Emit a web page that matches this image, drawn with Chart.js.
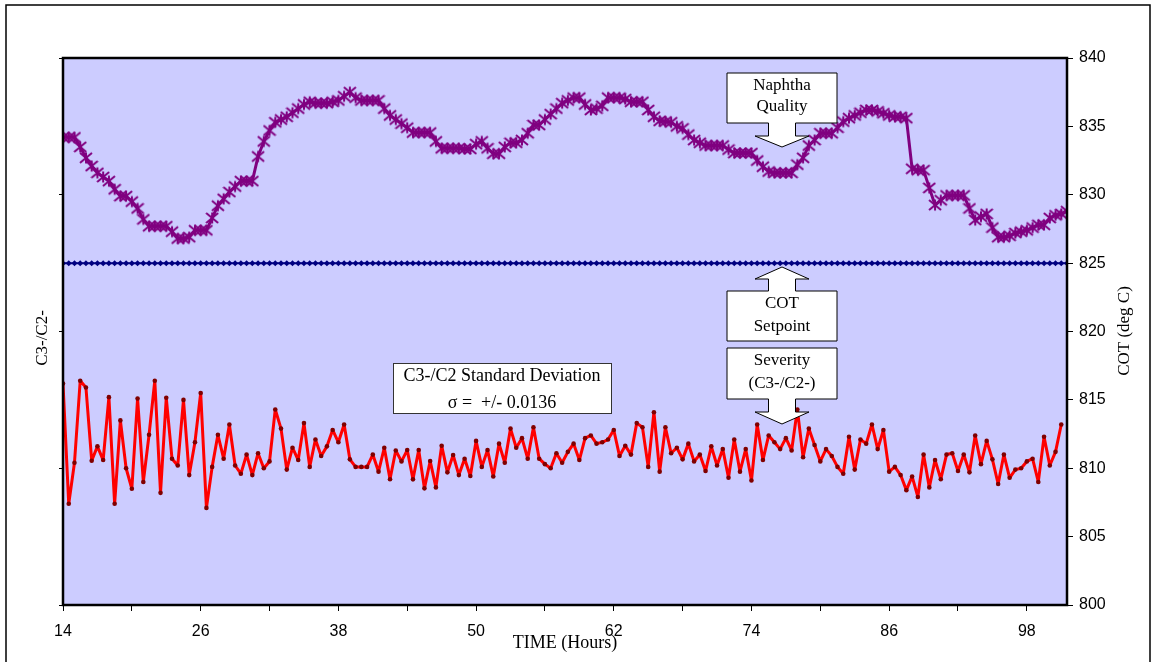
<!DOCTYPE html>
<html>
<head>
<meta charset="utf-8">
<script src="https://cdn.jsdelivr.net/npm/chart.js@4"></script>
<style>
html,body{margin:0;padding:0;background:#fff;}
#wrap{width:1154px;height:662px;position:relative;}
</style>
</head>
<body>
<div id="wrap"><canvas id="c" width="1154" height="662"></canvas></div>
<script>
// ---- DATA ----
const hours = [14,14.5,15,15.5,16,16.5,17,17.5,18,18.5,19,19.5,20,20.5,21,21.5,22,22.5,23,23.5,24,24.5,25,25.5,26,26.5,27,27.5,28,28.5,29,29.5,30,30.5,31,31.5,32,32.5,33,33.5,34,34.5,35,35.5,36,36.5,37,37.5,38,38.5,39,39.5,40,40.5,41,41.5,42,42.5,43,43.5,44,44.5,45,45.5,46,46.5,47,47.5,48,48.5,49,49.5,50,50.5,51,51.5,52,52.5,53,53.5,54,54.5,55,55.5,56,56.5,57,57.5,58,58.5,59,59.5,60,60.5,61,61.5,62,62.5,63,63.5,64,64.5,65,65.5,66,66.5,67,67.5,68,68.5,69,69.5,70,70.5,71,71.5,72,72.5,73,73.5,74,74.5,75,75.5,76,76.5,77,77.5,78,78.5,79,79.5,80,80.5,81,81.5,82,82.5,83,83.5,84,84.5,85,85.5,86,86.5,87,87.5,88,88.5,89,89.5,90,90.5,91,91.5,92,92.5,93,93.5,94,94.5,95,95.5,96,96.5,97,97.5,98,98.5,99,99.5,100,100.5,101,101.5];

// Naphtha quality (left axis units)
const naphthaQuality = [
34.2,34.2,34.2,33.5,32.7,32.1,31.6,31.3,31.0,30.4,
29.9,29.9,29.5,29.0,28.2,27.7,27.7,27.7,27.7,27.3,
26.8,26.8,26.9,27.4,27.4,27.4,28.3,29.2,29.7,30.2,
30.6,31.0,31.0,31.0,32.8,33.9,34.7,35.3,35.5,35.7,
36.0,36.3,36.6,36.8,36.7,36.7,36.7,36.8,36.9,37.2,
37.5,37.1,36.9,36.9,36.9,36.9,36.3,35.8,35.5,35.2,
34.9,34.55,34.55,34.55,34.55,33.9,33.4,33.4,33.4,33.4,
33.35,33.35,33.7,33.9,33.4,33.0,33.0,33.5,33.8,33.8,
34.0,34.5,35.1,35.1,35.5,35.9,36.3,36.7,36.9,37.1,
37.1,36.6,36.2,36.3,36.5,37.1,37.1,37.1,37.0,36.8,
36.8,36.8,36.2,35.7,35.4,35.35,35.3,35.0,34.85,34.4,
34.0,33.8,33.6,33.6,33.6,33.6,33.3,33.05,33.05,33.05,
33.05,32.5,32.05,31.7,31.6,31.6,31.6,31.6,32.2,32.7,
33.6,34.0,34.5,34.5,34.5,34.9,35.35,35.6,35.8,36.0,
36.2,36.2,36.1,35.96,35.8,35.7,35.7,35.6,31.9,31.8,
31.8,30.5,29.25,29.6,29.95,29.95,29.95,29.95,29.0,28.15,
28.4,28.6,27.6,26.9,26.9,27.0,27.2,27.3,27.4,27.6,
27.8,27.8,28.3,28.5,28.6,28.8];

// Severity C3-/C2- (left axis units)
const severity = [
16.2,7.4,10.4,16.4,15.9,10.55,11.6,10.6,15.2,7.4,
13.5,10.0,8.5,15.1,9.0,12.45,16.4,8.2,15.15,10.7,
10.2,15.0,9.5,11.9,15.5,7.1,10.1,12.45,10.7,13.2,
10.2,9.6,11.0,9.5,11.1,10.0,10.5,14.3,12.9,9.9,
11.5,10.6,13.3,10.1,12.1,10.9,11.6,12.8,11.9,13.2,
10.65,10.1,10.1,10.1,11.0,9.75,11.5,9.2,11.3,10.5,
11.33,9.19,11.33,8.53,10.53,8.6,11.65,9.7,10.97,9.5,
10.7,9.43,12.0,10.1,11.33,9.4,11.8,10.4,12.9,11.5,
12.2,10.7,13.0,10.7,10.3,10.0,11.1,10.4,11.2,11.8,
10.6,12.2,12.4,11.8,11.9,12.1,12.8,10.9,11.65,11.0,
13.3,13.0,10.1,14.1,9.75,13.0,11.1,11.5,10.65,11.8,
10.5,11.0,9.8,11.6,10.2,11.4,9.3,12.1,9.75,11.4,
9.1,13.2,10.6,12.4,11.9,11.4,12.2,11.3,14.3,10.8,
12.9,11.7,10.5,11.4,10.9,10.1,9.6,12.3,9.9,12.1,
11.8,13.2,11.4,12.8,9.75,10.1,9.5,8.4,9.4,7.9,
11.0,8.6,10.6,9.2,11.0,11.1,9.8,11.0,9.7,12.4,
10.3,12.0,10.65,8.85,11.0,9.3,9.9,10.0,10.5,10.7,
9.0,12.3,10.2,11.2,13.2];

// COT setpoint (deg C, right axis)
const cotSetpoint = [
825,825,825,825,825,825,825,825,825,825,825,825,825,825,825,825,825,825,825,825,
825,825,825,825,825,825,825,825,825,825,825,825,825,825,825,825,825,825,825,825,
825,825,825,825,825,825,825,825,825,825,825,825,825,825,825,825,825,825,825,825,
825,825,825,825,825,825,825,825,825,825,825,825,825,825,825,825,825,825,825,825,
825,825,825,825,825,825,825,825,825,825,825,825,825,825,825,825,825,825,825,825,
825,825,825,825,825,825,825,825,825,825,825,825,825,825,825,825,825,825,825,825,
825,825,825,825,825,825,825,825,825,825,825,825,825,825,825,825,825,825,825,825,
825,825,825,825,825,825,825,825,825,825,825,825,825,825,825,825,825,825,825,825,
825,825,825,825,825,825,825,825,825,825,825,825,825,825,825,825];

const xTickValues = [14,20,26,32,38,44,50,56,62,68,74,80,86,92,98];
const xTickLabels = [14,26,38,50,62,74,86,98];
const cotTickStep = 5;

// ---- marker image for Naphtha series (Excel-style star) ----
function starMarker(){
  const c = document.createElement('canvas');
  c.width = 14; c.height = 14;
  const g = c.getContext('2d');
  g.strokeStyle = '#800080'; g.lineWidth = 2;
  g.beginPath();
  g.moveTo(1,2); g.lineTo(13,12);
  g.moveTo(13,2); g.lineTo(1,12);
  g.moveTo(7,1.5); g.lineTo(7,12.5);
  g.stroke();
  return c;
}

const serif = '"Liberation Serif", "Times New Roman", serif';
const sans = '"Liberation Sans", Arial, sans-serif';

function callout(ctx, x0, x1, y0, y1, dir, stemY, tipY){
  const cx = (x0 + x1) / 2;
  const sw = 13.5, hw = 27;
  ctx.beginPath();
  if (dir === 'down') {
    ctx.moveTo(x0,y0); ctx.lineTo(x1,y0); ctx.lineTo(x1,y1);
    ctx.lineTo(cx+sw,y1); ctx.lineTo(cx+sw,stemY); ctx.lineTo(cx+hw,stemY);
    ctx.lineTo(cx,tipY); ctx.lineTo(cx-hw,stemY); ctx.lineTo(cx-sw,stemY);
    ctx.lineTo(cx-sw,y1); ctx.lineTo(x0,y1); ctx.closePath();
  } else {
    ctx.moveTo(x0,y0); ctx.lineTo(cx-sw,y0); ctx.lineTo(cx-sw,stemY); ctx.lineTo(cx-hw,stemY);
    ctx.lineTo(cx,tipY); ctx.lineTo(cx+hw,stemY); ctx.lineTo(cx+sw,stemY);
    ctx.lineTo(cx+sw,y0); ctx.lineTo(x1,y0); ctx.lineTo(x1,y1); ctx.lineTo(x0,y1); ctx.closePath();
  }
  ctx.fillStyle = '#fff'; ctx.fill();
  ctx.strokeStyle = '#000'; ctx.lineWidth = 1; ctx.stroke();
}

const overlay = {
  id: 'overlay',
  beforeDraw(chart){
    const ctx = chart.ctx, a = chart.chartArea;
    ctx.save();
    ctx.fillStyle = '#fff'; ctx.fillRect(0,0,chart.width,chart.height);
    ctx.fillStyle = '#CCCCFF'; ctx.fillRect(a.left,a.top,a.right-a.left,a.bottom-a.top);
    ctx.restore();
  },
  afterDraw(chart){
    const ctx = chart.ctx, a = chart.chartArea;
    ctx.save();
    // plot frame
    ctx.strokeStyle = '#000'; ctx.lineWidth = 2.5;
    ctx.strokeRect(a.left, a.top, a.right-a.left, a.bottom-a.top);
    // outer border
    ctx.lineWidth = 1.5;
    ctx.strokeRect(6, 5, 1144, 700);

    // callouts
    callout(ctx, 727, 837, 73, 123, 'down', 136, 147);
    callout(ctx, 727, 837, 291, 341, 'up', 279, 267);
    callout(ctx, 727, 837, 348, 399, 'down', 412, 424);

    ctx.fillStyle = '#000';
    ctx.font = '17px ' + serif;
    ctx.textAlign = 'center'; ctx.textBaseline = 'middle';
    ctx.fillText('Naphtha', 782, 86);
    ctx.fillText('Quality', 782, 107);
    ctx.fillText('COT', 782, 304);
    ctx.fillText('Setpoint', 782, 327);
    ctx.fillText('Severity', 782, 361);
    ctx.fillText('(C3-/C2-)', 782, 384);

    // standard deviation box
    ctx.fillStyle = '#fff';
    ctx.fillRect(393, 363, 219, 51);
    ctx.strokeStyle = '#333'; ctx.lineWidth = 1;
    ctx.strokeRect(393.5, 363.5, 218, 50);
    ctx.fillStyle = '#000';
    ctx.font = '18px ' + serif;
    ctx.fillText('C3-/C2 Standard Deviation', 502, 376);
    ctx.fillText('\u03C3 =  +/- 0.0136', 502, 403);

    // axis titles
    ctx.font = '18px ' + serif;
    ctx.fillText('TIME (Hours)', (a.left+a.right)/2, 643);
    ctx.font = '17px ' + serif;
    ctx.save();
    ctx.translate(43, 338); ctx.rotate(-Math.PI/2);
    ctx.fillText('C3-/C2-', 0, 0);
    ctx.restore();
    ctx.save();
    ctx.translate(1125, 331); ctx.rotate(-Math.PI/2);
    ctx.fillText('COT (deg C)', 0, 0);
    ctx.restore();
    ctx.restore();
  }
};

new Chart(document.getElementById('c'), {
  type: 'line',
  data: {
    labels: hours,
    datasets: [
      { label: 'COT Setpoint', data: cotSetpoint, yAxisID: 'yR',
        borderColor: '#000080', borderWidth: 2, pointStyle: 'rectRot', pointRadius: 3,
        pointBackgroundColor: '#000080', pointBorderColor: '#000080', pointBorderWidth: 0 },
      { label: 'Naphtha Quality', data: naphthaQuality, yAxisID: 'yL',
        borderColor: '#800080', borderWidth: 3, pointStyle: starMarker(), pointRadius: 7,
        tension: 0 },
      { label: 'Severity (C3-/C2-)', data: severity, yAxisID: 'yL',
        borderColor: '#FF0000', borderWidth: 3, pointStyle: 'circle', pointRadius: 2.3,
        pointBackgroundColor: '#800000', pointBorderColor: '#800000', pointBorderWidth: 0,
        tension: 0 }
    ]
  },
  options: {
    responsive: false, animation: false,
    layout: { padding: { top: 58, left: 0, right: 0, bottom: 0 } },
    plugins: { legend: { display: false }, tooltip: { enabled: false } },
    elements: { line: { borderJoinStyle: 'round' } },
    scales: {
      x: {
        type: 'linear', position: 'bottom', min: 14, max: 101.5,
        afterBuildTicks: s => { s.ticks = xTickValues.map(v => ({ value: v })); },
        afterFit: s => { s.height = 57; },
        grid: { drawOnChartArea: false, color: '#000', tickLength: 6, lineWidth: 1 },
        border: { display: false },
        ticks: { autoSkip: false, maxRotation: 0, padding: 11, color: '#000',
          font: { family: sans, size: 16 },
          callback: v => xTickLabels.includes(v) ? String(v) : '' }
      },
      yL: {
        type: 'linear', position: 'left', min: 0, max: 40,
        afterFit: s => { s.width = 63; },
        grid: { drawOnChartArea: false, color: '#000', tickLength: 4 },
        border: { display: false },
        ticks: { stepSize: 10, display: false }
      },
      yR: {
        type: 'linear', position: 'right', min: 800, max: 840,
        afterFit: s => { s.width = 87; },
        grid: { drawOnChartArea: false, color: '#000', tickLength: 6 },
        border: { display: false },
        ticks: { stepSize: cotTickStep, padding: 6, color: '#000', font: { family: sans, size: 16 } }
      }
    }
  },
  plugins: [overlay]
});
</script>
</body>
</html>
